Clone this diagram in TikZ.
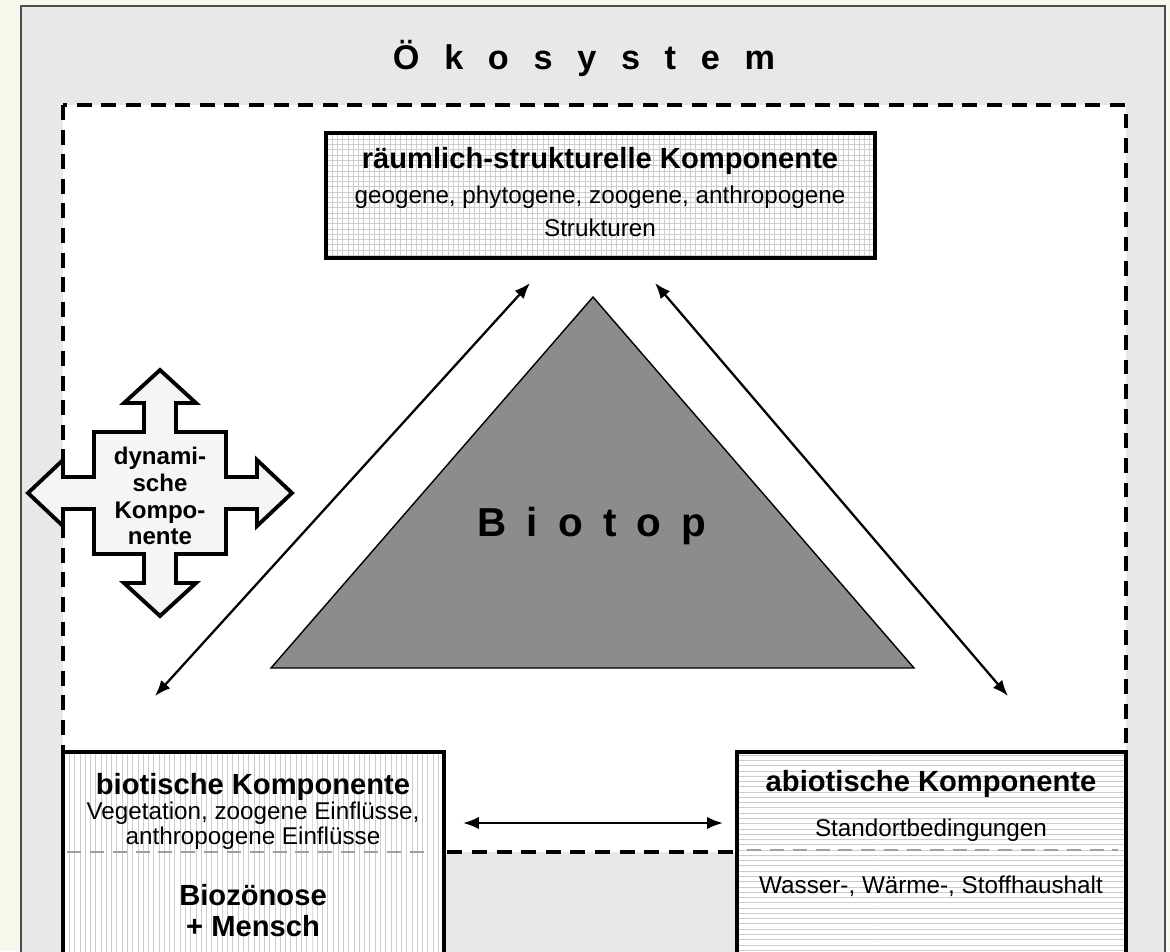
\documentclass[tikz,border=0pt]{standalone}
\usepackage{fontspec}
\setmainfont{Liberation Sans}
\newfontfamily\spacedfont[LetterSpace=72]{Liberation Sans}
\newfontfamily\biotopfont[LetterSpace=50]{Liberation Sans}
\usetikzlibrary{arrows.meta,patterns,positioning}

\definecolor{paper}{RGB}{245,248,235}
\definecolor{panel}{RGB}{232,232,232}
\definecolor{biotopgray}{RGB}{140,140,140}

\tikzset{
  compbox/.style={draw=black, line width=2.2pt, preaction={fill=white},
    pattern color=gray!40, inner sep=0pt, outer sep=0pt},
  boxtitle/.style={font=\fontsize{16.6}{18}\selectfont\bfseries, inner sep=0pt, anchor=base},
  boxtext/.style={font=\fontsize{13.8}{15}\selectfont, inner sep=0pt, anchor=base},
  dblarrow/.style={{Latex[length=9pt,width=7pt]}-{Latex[length=9pt,width=7pt]}, line width=1.3pt},
  sepline/.style={gray!75, line width=1.6pt, dash pattern=on 8pt off 5pt},
}

\begin{document}
\begin{tikzpicture}[x=0.02cm, y=-0.02cm]
\useasboundingbox (0,0) rectangle (1170,951);
\clip (0,0) rectangle (1170,951);

% Hintergrund
\fill[paper] (0,0) rectangle (1170,951);
\filldraw[fill=panel, draw=black!70, line width=0.6pt] (21,6) rectangle (1165,980);

% Oekosystem-Rahmen
\filldraw[fill=white, draw=black, line width=2pt, dash pattern=on 8.5pt off 5.5pt]
  (63,105) rectangle (1126,852);
\node[font=\spacedfont\bfseries\fontsize{19.5}{22}\selectfont] (titel) at (584,58) {Ökosystem};

% Biotop
\filldraw[fill=biotopgray, draw=black, line width=0.8pt]
  (593,297) -- (914,668) -- (271,668) -- cycle;
\node[font=\biotopfont\bfseries\fontsize{23}{25}\selectfont] (biotop) at (592,526) {Biotop};

% Komponenten
\node[compbox, pattern=grid, minimum width=10.98cm, minimum height=2.5cm] (raum) at (600.5,195.5) {};
\node[boxtitle] (raumtitel) at (600,168) {räumlich-strukturelle Komponente};
\node[boxtext] (raumzeile) at (600,203) {geogene, phytogene, zoogene, anthropogene};
\node[boxtext] (raumende) at (600,236) {Strukturen};

\node[compbox, pattern=vertical lines, minimum width=7.62cm, minimum height=4.6cm, anchor=north west]
  (biotic) at (63,752) {};
\draw[sepline] (67,852) -- (432,852);
\node[boxtitle] (biotitel) at (253,794) {biotische Komponente};
\node[boxtext] (biozeile) at (253,819) {Vegetation, zoogene Einflüsse,};
\node[boxtext] (bioende) at (253,844) {anthropogene Einflüsse};
\node[boxtitle] (biozoenose) at (253,905) {Biozönose};
\node[boxtitle] (mensch) at (253,936) {+ Mensch};

\node[compbox, pattern=horizontal lines, minimum width=7.78cm, minimum height=4.6cm, anchor=north west]
  (abiotic) at (737,752) {};
\draw[sepline] (747,850) -- (1118,850);
\node[boxtitle] (abiotitel) at (931,791) {abiotische Komponente};
\node[boxtext] (standort) at (931,836) {Standortbedingungen};
\node[boxtext] (haushalt) at (931,893) {Wasser-, Wärme-, Stoffhaushalt};

% Wechselwirkungen
\coordinate (lo) at (530,283);
\coordinate (lu) at (155,696);
\coordinate (ro) at (655,283);
\coordinate (ru) at (1008,696);
\coordinate (ml) at (463,823);
\coordinate (mr) at (723,823);
\draw[dblarrow] (lo) -- (lu);
\draw[dblarrow] (ro) -- (ru);
\draw[dblarrow] (ml) -- (mr);

% dynamische Komponente
\begin{scope}[shift={(160,493)}]
\filldraw[fill=gray!8, draw=black, line width=2.2pt, line join=miter]
  (0,-123) -- (36,-90) -- (16,-90) -- (16,-61) -- (66,-61) -- (66,-16)
  -- (97,-16) -- (97,-33) -- (132,0) -- (97,33) -- (97,16) -- (66,16)
  -- (66,61) -- (16,61) -- (16,90) -- (36,90) -- (0,123) -- (-36,90)
  -- (-16,90) -- (-16,61) -- (-66,61) -- (-66,16) -- (-97,16) -- (-97,33)
  -- (-132,0) -- (-97,-33) -- (-97,-16) -- (-66,-16) -- (-66,-61)
  -- (-16,-61) -- (-16,-90) -- (-36,-90) -- cycle;
\end{scope}
\node[font=\fontsize{13.7}{15.3}\selectfont\bfseries, align=center] (dynamik) at (160,496)
  {dynami-\\sche\\Kompo-\\nente};
\end{tikzpicture}
\end{document}
